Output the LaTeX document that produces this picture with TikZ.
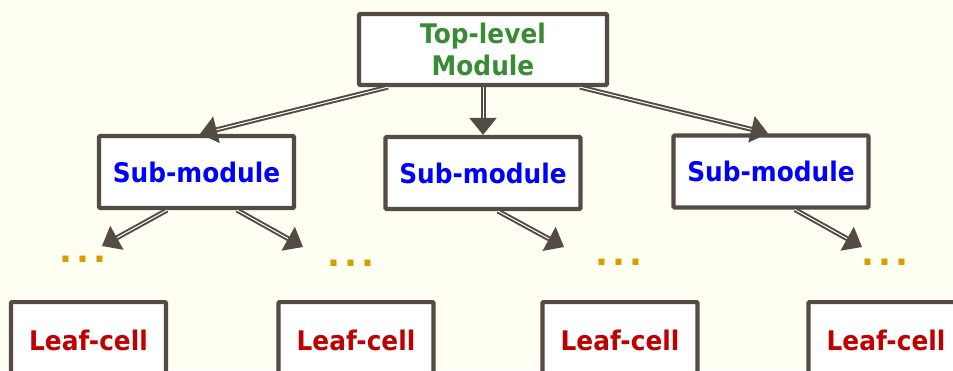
\documentclass[tikz,border=0pt]{standalone}
\usepackage{fontspec}
\setmainfont{DejaVu Sans}
\newfontfamily\diagfont[FakeStretch=0.92]{DejaVu Sans}
\usetikzlibrary{arrows.meta}
\definecolor{paper}{HTML}{FFFFF3}
\definecolor{edge}{HTML}{544B45}
\definecolor{topgreen}{HTML}{3A8B36}
\definecolor{subblue}{HTML}{0000FF}
\definecolor{leafred}{HTML}{C00000}
\definecolor{dotgold}{HTML}{D4A000}
\newcommand\spreaddots{.\kern4.1pt.\kern4.1pt.}
\tikzset{
  box/.style={draw=edge, line width=4.2pt, fill=white, rounded corners=1pt,
    inner sep=0pt, font=\diagfont\fontsize{27}{32}\selectfont\bfseries, align=center},
  topbox/.style={box, minimum width=248pt, minimum height=71pt, text=topgreen},
  subbox/.style={box, minimum width=195pt, minimum height=72pt, text=subblue},
  leafbox/.style={box, anchor=north, minimum width=155pt, minimum height=76pt, text=leafred},
  more/.style={text=dotgold, inner sep=0pt, font=\fontsize{34}{34}\selectfont\bfseries},
  link/.style={draw=edge, line width=2pt, double=white, double distance=1pt,
    -{Triangle[length=17pt,width=27pt]}}
}
\begin{document}
\begin{tikzpicture}[x=1pt,y=-1pt]
  \fill[paper] (0,0) rectangle (953,370);
  \useasboundingbox (0,0) rectangle (953,370);
  \clip (0,0) rectangle (953,370);

  % hierarchy boxes
  \node[topbox] (top) at (483,49.5) {Top-level\\Module};
  \node[subbox] (subL) at (196.5,172) {Sub-module};
  \node[subbox] (subM) at (483,173) {Sub-module};
  \node[subbox] (subR) at (771,171.5) {Sub-module};
  \node[leafbox] (leafA) at (88.5,300) {Leaf-cell};
  \node[leafbox] (leafB) at (356,300) {Leaf-cell};
  \node[leafbox] (leafC) at (620,300) {Leaf-cell};
  \node[leafbox] (leafD) at (886,300) {Leaf-cell};

  % elided levels
  \node[more] (moreA) at (83,259) {\spreaddots};
  \node[more] (moreB) at (351,263) {\spreaddots};
  \node[more] (moreC) at (618.5,262) {\spreaddots};
  \node[more] (moreD) at (885,262.5) {\spreaddots};

  % free ends of the lower arrows
  \coordinate (endA) at (102,246);
  \coordinate (endB) at (303,247);
  \coordinate (endC) at (564,247);
  \coordinate (endD) at (862,247);

  % connectors
  \draw[link] ([xshift=-95pt]top.south) -- ([xshift=3.5pt]subL.north);
  \draw[link] (top.south) -- (subM.north);
  \draw[link] ([xshift=97pt]top.south) -- ([xshift=-3pt]subR.north);
  \draw[link] ([xshift=-29.5pt]subL.south) -- (endA);
  \draw[link] ([xshift=40.5pt]subL.south) -- (endB);
  \draw[link] ([xshift=15pt]subM.south) -- (endC);
  \draw[link] ([xshift=24pt]subR.south) -- (endD);
\end{tikzpicture}
\end{document}
